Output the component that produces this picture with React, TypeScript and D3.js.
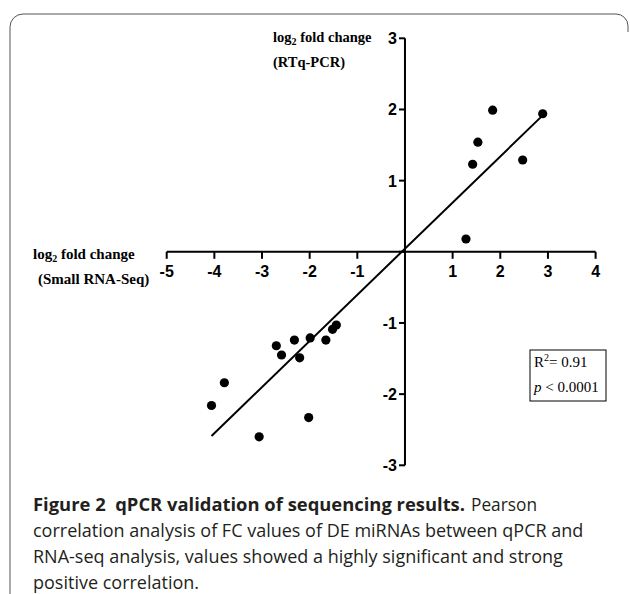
import React from "react";
import * as d3 from "d3";

// log2 fold change, small RNA-seq (x) vs RTq-PCR (y)
const seqFC = [
  -4.06, -3.79, -3.06, -2.7, -2.59, -2.32, -2.21, -2.02, -1.99, -1.66, -1.52, -1.44,
  1.28, 1.42, 1.53, 1.84, 2.47, 2.89,
];
const qpcrFC = [
  -2.16, -1.84, -2.6, -1.32, -1.45, -1.24, -1.49, -2.33, -1.21, -1.24, -1.09, -1.03,
  0.18, 1.23, 1.54, 1.99, 1.29, 1.94,
];
const xTicks = [-5, -4, -3, -2, -1, 0, 1, 2, 3, 4];
const yTicks = [-3, -2, -1, 0, 1, 2, 3];
const statLines = ["0.91", "0.0001"];
const captionBold = "Figure 2\u00a0\u00a0qPCR validation of sequencing results.";
const captionLines = [
  "Pearson",
  "correlation analysis of FC values of DE miRNAs between qPCR and",
  "RNA-seq analysis, values showed a highly significant and strong",
  "positive correlation.",
];

const W = 630,
  H = 594;

export default function App() {
  const x = d3.scaleLinear().domain([-5, 4]).range([166.7, 595.6]);
  const y = d3.scaleLinear().domain([-3, 3]).range([465.3, 38.3]);

  // least squares fit
  const mx = d3.mean(seqFC)!;
  const my = d3.mean(qpcrFC)!;
  const sxy = d3.sum(seqFC, (v, i) => (v - mx) * (qpcrFC[i] - my));
  const sxx = d3.sum(seqFC, (v) => (v - mx) * (v - mx));
  const slope = sxy / sxx;
  const icpt = my - slope * mx;
  const [x0, x1] = d3.extent(seqFC) as [number, number];
  const fit = d3.line<number>()
    .x((d) => x(d))
    .y((d) => y(slope * d + icpt));

  const tickFont = "'Liberation Sans', Arial, sans-serif";
  const serif = "'Liberation Serif', 'Times New Roman', serif";
  const capFont = "'Open Sans', sans-serif";

  return (
    <div style={{ position: "absolute", left: 0, top: 0 }}>
      <svg width={W} height={H} style={{ display: "block", background: "#fff" }}>
        {/* figure frame */}
        <path
          d="M10,594 V27 A13,13 0 0 1 23,14 H616 A12,12 0 0 1 628,26 V32"
          fill="none"
          stroke="#555"
          strokeWidth={1}
        />

        {/* axes */}
        <g stroke="#000" strokeWidth={2} fill="none">
          <line x1={x(-5)} x2={x(4)} y1={y(0)} y2={y(0)} />
          <line x1={x(0)} x2={x(0)} y1={y(3)} y2={y(-3)} />
          {xTicks.map((t) => (
            <line key={"xt" + t} x1={x(t)} x2={x(t)} y1={y(0)} y2={y(0) + 7} />
          ))}
          {yTicks.map((t) => (
            <line key={"yt" + t} x1={x(0) - 6} x2={x(0)} y1={y(t)} y2={y(t)} />
          ))}
        </g>
        <g fontFamily={tickFont} fontWeight="bold" fontSize={16} fill="#000">
          {xTicks
            .filter((t) => t !== 0)
            .map((t) => (
              <text key={"xl" + t} x={x(t)} y={y(0) + 25} textAnchor="middle">
                {t}
              </text>
            ))}
          {yTicks
            .filter((t) => t !== 0)
            .map((t) => (
              <text key={"yl" + t} x={x(0) - 8} y={y(t) + 6} textAnchor="end">
                {t}
              </text>
            ))}
        </g>

        {/* axis titles */}
        <g fontFamily={serif} fontWeight="bold" fontSize={14.5} fill="#000">
          <text x={273} y={42}>
            log<tspan fontSize={10} dy={3}>2</tspan>
            <tspan dy={-3}> fold change</tspan>
          </text>
          <text x={273} y={67}>(RTq-PCR)</text>
          <text x={33} y={259} fontSize={15}>
            log<tspan fontSize={10} dy={3}>2</tspan>
            <tspan dy={-3}> fold change</tspan>
          </text>
          <text x={38} y={284} fontSize={15}>(Small RNA-Seq)</text>
        </g>

        {/* regression line */}
        <path d={fit([x0, x1])!} stroke="#000" strokeWidth={2} fill="none" />

        {/* points */}
        {seqFC.map((v, i) => (
          <circle key={i} cx={x(v)} cy={y(qpcrFC[i])} r={4.6} fill="#000" />
        ))}

        {/* stats box */}
        <rect x={530} y={350} width={76} height={51} fill="#fff" stroke="#000" strokeWidth={1} />
        <g fontFamily={serif} fontSize={15} fill="#000">
          <text x={534} y={367}>
            R<tspan fontSize={10} dy={-6}>2</tspan>
            <tspan dy={6}>= {statLines[0]}</tspan>
          </text>
          <text x={534} y={392}>
            <tspan fontStyle="italic">p</tspan> &lt; {statLines[1]}
          </text>
        </g>

        {/* caption */}
        <g fontFamily={capFont} fontSize={18} fill="#231f20">
          <text x={33} y={511} fontWeight="bold" textLength={432} lengthAdjust="spacingAndGlyphs">
            {captionBold}
          </text>
          <text x={471} y={511} textLength={66} lengthAdjust="spacingAndGlyphs">
            {captionLines[0]}
          </text>
          {captionLines.slice(1).map((l, i) => (
            <text key={i} x={33} y={537 + i * 26}>
              {l}
            </text>
          ))}
        </g>
      </svg>
    </div>
  );
}
